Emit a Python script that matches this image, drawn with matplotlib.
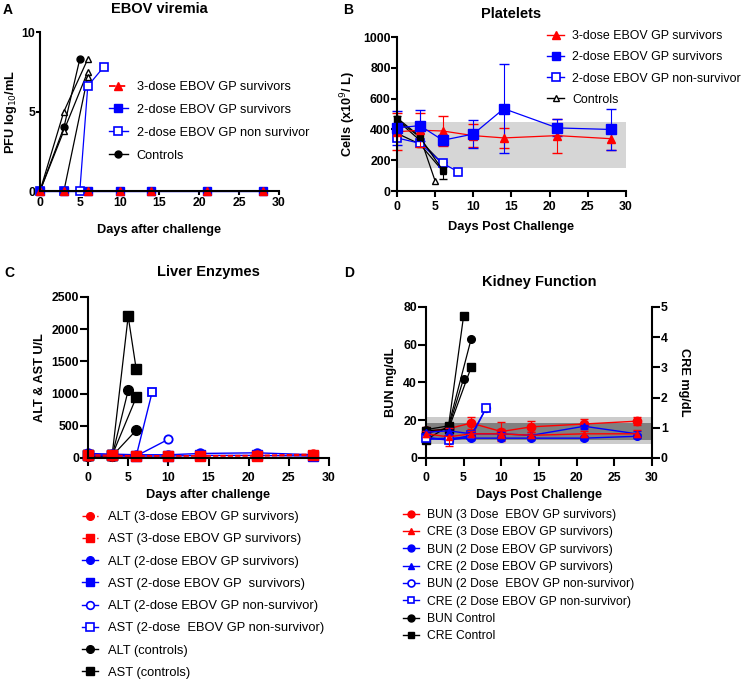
import matplotlib
matplotlib.use('Agg')
import matplotlib.pyplot as plt
from matplotlib.lines import Line2D

plt.rcParams['font.family'] = ['Liberation Sans', 'DejaVu Sans']

RED = '#ff0000'
BLUE = '#0000ff'
BLK = '#000000'

# ---- A: EBOV viremia ----
a_days = [0, 3, 6, 10, 14, 21, 28]
a_3dose = [0, 0, 0, 0, 0, 0, 0]
a_2dose = [0, 0, 0, 0, 0, 0, 0]
a_ns_days = [0, 3, 5, 6, 8]
a_ns = [0, 0, 0, 6.6, 7.8]
a_ctrl_days = [[0, 3, 5], [0, 3, 6], [0, 3, 6], [0, 3, 6]]
a_ctrl = [[0, 4.0, 8.3], [0, 5.0, 8.3], [0, 3.8, 7.5], [0, 0, 7.2]]
a_ctrl_mk = ['o', '^', '^', '^']

# ---- B: Platelets ----
b_days = [0, 3, 6, 10, 14, 21, 28]
b_3dose = [385, 395, 390, 360, 345, 360, 340]
b_3dose_err = [120, 110, 95, 75, 65, 110, 75]
b_2dose = [410, 425, 330, 370, 535, 410, 400]
b_2dose_err = [110, 100, 30, 90, 290, 55, 135]
b_ns_days = [0, 3, 6, 8]
b_ns = [345, 310, 180, 125]
b_ctrl_days = [[0, 3, 5], [0, 3, 6], [0, 3, 6]]
b_ctrl = [[475, 355, 65], [460, 330, 175], [375, 305, 130]]
b_ctrl_mean_days = [0, 3, 6]
b_ctrl_mean = [465, 350, 135]
b_ctrl_mean_err = [20, 30, 55]

# ---- C: Liver enzymes ----
c_days = [0, 3, 6, 10, 14, 21, 28]
c_alt3 = [30, 30, 30, 30, 35, 40, 60]
c_ast3 = [50, 40, 35, 35, 30, 30, 40]
c_alt2 = [70, 60, 50, 50, 70, 80, 50]
c_ast2 = [40, 40, 30, 30, 40, 40, 30]
c_alt_ns_days = [0, 3, 6, 10]
c_alt_ns = [40, 40, 30, 290]
c_ast_ns_days = [0, 3, 6, 8]
c_ast_ns = [40, 40, 30, 1030]
c_alt_ctrl_days = [[0, 3, 5], [0, 3, 6]]
c_alt_ctrl = [[30, 30, 1050], [30, 30, 430]]
c_ast_ctrl_days = [[0, 3, 5, 6], [0, 3, 6]]
c_ast_ctrl = [[40, 40, 2200, 1380], [40, 40, 940]]

# ---- D: Kidney function ----
d_days = [0, 3, 6, 10, 14, 21, 28]
d_bun3 = [14, 15.5, 18.5, 14, 16.5, 18, 19.5]
d_bun3_err = [2.5, 3, 3, 5, 3, 2.5, 2]
d_cre3 = [0.8, 0.7, 0.8, 0.8, 0.75, 0.8, 0.8]
d_cre3_err = [0.1, 0.3, 0.1, 0.15, 0.1, 0.1, 0.12]
d_bun2 = [10, 10.5, 10.5, 10.5, 10.5, 10.5, 11.5]
d_bun2_err = [1, 1, 1, 1, 1, 1, 1]
d_cre2 = [0.85, 0.9, 0.8, 0.8, 0.75, 1.05, 0.8]
d_cre2_err = [0.05, 0.1, 0.05, 0.05, 0.05, 0.05, 0.1]
d_bun_ns_days = [0, 3, 6, 8]
d_bun_ns = [11, 9.5, 11, 26.5]
d_cre_ns_days = [0, 3, 6, 8]
d_cre_ns = [0.65, 0.6, 0.75, 1.65]
d_bun_ctrl_days = [[0, 3, 6], [0, 3, 5]]
d_bun_ctrl = [[15, 17, 63], [13, 16, 42]]
d_cre_ctrl_days = [[0, 3, 5], [0, 3, 6]]
d_cre_ctrl = [[0.6, 1.05, 4.7], [0.9, 0.95, 3.0]]

TICK = 8.8
LAB = 9.2
TIT = 10.5


def prism(ax, tl=6, xpad=4, ypad=0.5):
    ax.spines['top'].set_visible(False)
    ax.spines['right'].set_visible(False)
    for s in ax.spines.values():
        s.set_linewidth(1.5)
    ax.tick_params(direction='out', length=tl, width=1.5, labelsize=TICK)
    ax.tick_params(axis='x', pad=xpad)
    ax.tick_params(axis='y', pad=ypad)
    for t in ax.get_xticklabels() + ax.get_yticklabels():
        t.set_fontweight('bold')


def fig_legend(handles, labels, x, y, fs, hl, tp, ls):
    fig.legend(handles, labels, loc='upper left',
               bbox_to_anchor=(x / 742, 1 - y / 681), frameon=False, borderpad=0,
               borderaxespad=0, fontsize=fs, handlelength=hl, handletextpad=tp,
               labelspacing=ls)


fig = plt.figure(figsize=(7.42, 6.81), dpi=100)

# ---------------- A ----------------
axA = fig.add_axes([0.0539, 0.7195, 0.322, 0.2335])
for d, v, m in zip(a_ctrl_days, a_ctrl, a_ctrl_mk):
    axA.plot(d, v, color=BLK, lw=0.9, marker=m, ms=5,
             mfc=BLK if m == 'o' else 'white', mew=1, clip_on=False)
axA.plot(a_ns_days, a_ns, color=BLUE, lw=0.9, marker='s', ms=6, mfc='white', mew=1.2,
         clip_on=False)
axA.plot(a_days, a_2dose, color=BLUE, lw=1, marker='s', ms=6, clip_on=False)
axA.plot(a_days, a_3dose, color=RED, lw=1.3, ls='--', marker='^', ms=5.5, clip_on=False)
axA.set_xlim(0, 30)
axA.set_ylim(0, 10)
axA.set_xticks(range(0, 31, 5))
axA.set_yticks([0, 5, 10])
axA.set_title('EBOV viremia', fontsize=TIT, fontweight='bold', pad=14)
axA.set_ylabel('PFU log$_{10}$/mL', fontsize=LAB, fontweight='bold', labelpad=2)
axA.set_xlabel('Days after challenge', fontsize=LAB, fontweight='bold', labelpad=11)
prism(axA, tl=3, xpad=1, ypad=0.5)
hA = [Line2D([], [], color=RED, lw=1.3, ls='--', marker='^', ms=5.5),
      Line2D([], [], color=BLUE, lw=1, marker='s', ms=6),
      Line2D([], [], color=BLUE, lw=1, marker='s', ms=6, mfc='white', mew=1.2),
      Line2D([], [], color=BLK, lw=1, marker='o', ms=5)]
fig_legend(hA, ['3-dose EBOV GP survivors', '2-dose EBOV GP survivors',
                '2-dose EBOV GP non survivor', 'Controls'],
           109, 81, 9.2, 1.47, 0.7, 0.85)

# ---------------- B ----------------
axB = fig.add_axes([0.535, 0.7195, 0.3086, 0.226])
axB.axhspan(150, 450, color='#d6d6d6', zorder=0, lw=0)
for d, v in zip(b_ctrl_days, b_ctrl):
    axB.plot(d, v, color=BLK, lw=0.9, marker='^', ms=5, mfc='white', mew=1, clip_on=False)
axB.errorbar(b_ctrl_mean_days, b_ctrl_mean, yerr=b_ctrl_mean_err, color=BLK, lw=0.9,
             marker='s', ms=5, capsize=3, elinewidth=0.8, clip_on=False)
axB.plot(b_ns_days, b_ns, color=BLUE, lw=0.9, marker='s', ms=6, mfc='white', mew=1.2,
         clip_on=False)
axB.errorbar(b_days, b_3dose, yerr=b_3dose_err, color=RED, lw=0.9, marker='^', ms=5.5,
             capsize=3.5, elinewidth=0.8, clip_on=False)
axB.errorbar(b_days, b_2dose, yerr=b_2dose_err, color=BLUE, lw=0.9, marker='s', ms=7,
             capsize=3.5, elinewidth=0.8, clip_on=False)
axB.set_xlim(0, 30)
axB.set_ylim(0, 1000)
axB.set_xticks(range(0, 31, 5))
axB.set_yticks(range(0, 1001, 200))
axB.set_title('Platelets', fontsize=TIT, fontweight='bold', pad=14)
axB.set_ylabel('Cells (x10$^9$/ L)', fontsize=LAB, fontweight='bold')
axB.set_xlabel('Days Post Challenge', fontsize=LAB, fontweight='bold', labelpad=6)
prism(axB, tl=4, xpad=3, ypad=0.5)
hB = [Line2D([], [], color=RED, lw=1, marker='^', ms=5.5),
      Line2D([], [], color=BLUE, lw=1, marker='s', ms=6),
      Line2D([], [], color=BLUE, lw=1, marker='s', ms=6, mfc='white', mew=1.2),
      Line2D([], [], color=BLK, lw=1, marker='^', ms=5, mfc='white')]
fig_legend(hB, ['3-dose EBOV GP survivors', '2-dose EBOV GP survivors',
                '2-dose EBOV GP non-survivor', 'Controls'],
           547, 30, 8.9, 1.4, 0.62, 0.75)

# ---------------- C ----------------
axC = fig.add_axes([0.1186, 0.3275, 0.3248, 0.2364])
for d, v in zip(c_ast_ctrl_days, c_ast_ctrl):
    axC.plot(d, v, color=BLK, lw=0.9, marker='s', ms=7, clip_on=False)
for d, v in zip(c_alt_ctrl_days, c_alt_ctrl):
    axC.plot(d, v, color=BLK, lw=0.9, marker='o', ms=7, clip_on=False)
axC.plot(c_ast_ns_days, c_ast_ns, color=BLUE, lw=1, marker='s', ms=6, mfc='white',
         mew=1.3, clip_on=False)
axC.plot(c_alt_ns_days, c_alt_ns, color=BLUE, lw=1, marker='o', ms=6, mfc='white',
         mew=1.3, clip_on=False)
axC.plot(c_days, c_alt2, color=BLUE, lw=1, marker='o', ms=6.5, clip_on=False)
axC.plot(c_days, c_ast2, color=BLUE, lw=1, marker='s', ms=6.5, clip_on=False)
axC.plot(c_days, c_alt3, color=RED, lw=1, ls='--', marker='o', ms=6.5, clip_on=False)
axC.plot(c_days, c_ast3, color=RED, lw=1, ls='--', marker='s', ms=6.5, clip_on=False)
axC.set_xlim(0, 30)
axC.set_ylim(0, 2500)
axC.set_xticks(range(0, 31, 5))
axC.set_yticks(range(0, 2501, 500))
axC.set_title('Liver Enzymes', fontsize=TIT, fontweight='bold', pad=15)
axC.set_ylabel('ALT & AST U/L', fontsize=LAB, fontweight='bold')
axC.set_xlabel('Days after challenge', fontsize=LAB, fontweight='bold')
prism(axC)
hC = [Line2D([], [], color=RED, lw=1, ls='--', marker='o', ms=5.5),
      Line2D([], [], color=RED, lw=1, ls='--', marker='s', ms=5.5),
      Line2D([], [], color=BLUE, lw=1, marker='o', ms=5.5),
      Line2D([], [], color=BLUE, lw=1, marker='s', ms=5.5),
      Line2D([], [], color=BLUE, lw=1, marker='o', ms=5.5, mfc='white', mew=1.2),
      Line2D([], [], color=BLUE, lw=1, marker='s', ms=5.5, mfc='white', mew=1.2),
      Line2D([], [], color=BLK, lw=1, marker='o', ms=5.5),
      Line2D([], [], color=BLK, lw=1, marker='s', ms=5.5)]
fig_legend(hC, ['ALT (3-dose EBOV GP survivors)', 'AST (3-dose EBOV GP survivors)',
                'ALT (2-dose EBOV GP survivors)', 'AST (2-dose EBOV GP  survivors)',
                'ALT (2-dose EBOV GP non-survivor)', 'AST (2-dose  EBOV GP non-survivor)',
                'ALT (controls)', 'AST (controls)'],
           82, 511, 9.3, 1.24, 0.78, 0.79)

# ---------------- D ----------------
axD = fig.add_axes([0.574, 0.3275, 0.3046, 0.2217])
axD2 = axD.twinx()
axD.axhspan(7.5, 21.7, color='#cccccc', zorder=0, lw=0)
axD.axhspan(9.5, 18.7, color='#808080', zorder=0, lw=0)
for d, v in zip(d_bun_ctrl_days, d_bun_ctrl):
    axD.plot(d, v, color=BLK, lw=0.9, marker='o', ms=5.5, clip_on=False)
axD.plot(d_bun_ns_days, d_bun_ns, color=BLUE, lw=1, marker='o', ms=5.5, mfc='white',
         mew=1.2, clip_on=False)
axD.errorbar(d_days, d_bun2, yerr=d_bun2_err, color=BLUE, lw=1, marker='o', ms=5.5,
             capsize=3, elinewidth=0.8, clip_on=False)
axD.errorbar(d_days, d_bun3, yerr=d_bun3_err, color=RED, lw=1, marker='o', ms=6,
             capsize=3, elinewidth=0.8, clip_on=False)
for d, v in zip(d_cre_ctrl_days, d_cre_ctrl):
    axD2.plot(d, v, color=BLK, lw=0.9, marker='s', ms=6, clip_on=False)
axD2.plot(d_cre_ns_days, d_cre_ns, color=BLUE, lw=1, marker='s', ms=5.5, mfc='white',
          mew=1.2, clip_on=False)
axD2.errorbar(d_days, d_cre2, yerr=d_cre2_err, color=BLUE, lw=1, marker='^', ms=5,
              capsize=3, elinewidth=0.8, clip_on=False)
axD2.errorbar(d_days, d_cre3, yerr=d_cre3_err, color=RED, lw=1, marker='^', ms=5,
              capsize=3, elinewidth=0.8, clip_on=False)
axD.set_xlim(0, 30)
axD.set_ylim(0, 80)
axD2.set_ylim(0, 5)
axD.set_xticks(range(0, 31, 5))
axD.set_yticks(range(0, 81, 20))
axD2.set_yticks(range(0, 6))
axD.set_title('Kidney Function', fontsize=TIT, fontweight='bold', pad=15)
axD.set_ylabel('BUN mg/dL', fontsize=LAB, fontweight='bold')
axD2.set_ylabel('CRE mg/dL', fontsize=LAB, fontweight='bold', rotation=270, labelpad=16)
axD.set_xlabel('Days Post Challenge', fontsize=LAB, fontweight='bold')
prism(axD)
axD2.spines['top'].set_visible(False)
axD2.spines['left'].set_visible(False)
axD2.spines['bottom'].set_visible(False)
axD2.spines['right'].set_linewidth(1.5)
axD2.tick_params(direction='out', length=6, width=1.5, labelsize=TICK, pad=0.5)
for t in axD2.get_yticklabels():
    t.set_fontweight('bold')
hD = [Line2D([], [], color=RED, lw=1, marker='o', ms=5),
      Line2D([], [], color=RED, lw=1, marker='^', ms=5),
      Line2D([], [], color=BLUE, lw=1, marker='o', ms=5),
      Line2D([], [], color=BLUE, lw=1, marker='^', ms=5),
      Line2D([], [], color=BLUE, lw=1, marker='o', ms=5, mfc='white', mew=1.2),
      Line2D([], [], color=BLUE, lw=1, marker='s', ms=5, mfc='white', mew=1.2),
      Line2D([], [], color=BLK, lw=1, marker='o', ms=5),
      Line2D([], [], color=BLK, lw=1, marker='s', ms=5)]
fig_legend(hD, ['BUN (3 Dose  EBOV GP survivors)', 'CRE (3 Dose EBOV GP survivors)',
                'BUN (2 Dose EBOV GP survivors)', 'CRE (2 Dose EBOV GP survivors)',
                'BUN (2 Dose  EBOV GP non-survivor)', 'CRE (2 Dose EBOV GP non-survivor)',
                'BUN Control', 'CRE Control'],
           403, 509, 8.7, 1.3, 0.7, 0.44)

# panel letters
for x, y, s in [(3, 10, 'A'), (343, 10, 'B'), (4, 273, 'C'), (344, 273, 'D')]:
    fig.text(x / 742, 1 - y / 681, s, fontsize=10, fontweight='bold', va='center')

fig.savefig('out.png', dpi=100)
